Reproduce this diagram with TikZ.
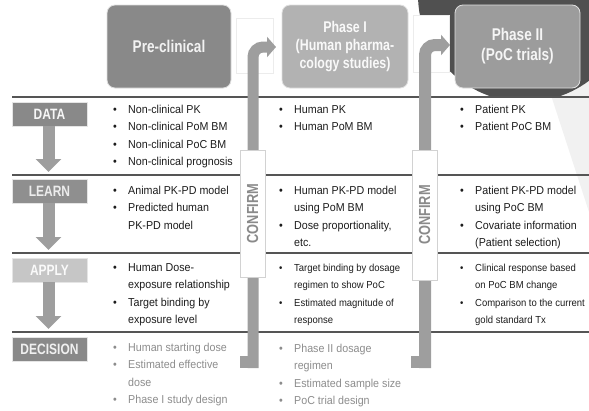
\documentclass[tikz,border=0pt]{standalone}
\usepackage{fontspec}
\setmainfont{Liberation Sans}[FakeStretch=0.93]
\newfontfamily\condfont{Liberation Sans}[FakeStretch=0.8]
\usetikzlibrary{arrows.meta}
\definecolor{hdA}{HTML}{898989}
\definecolor{hdB}{HTML}{B2B2B2}
\definecolor{hdC}{HTML}{9C9C9C}
\definecolor{darkbg}{HTML}{505050}
\definecolor{lightbg}{HTML}{F1F1F1}
\definecolor{sepc}{HTML}{555555}
\definecolor{arrgray}{HTML}{9E9E9E}
\definecolor{txtc}{HTML}{1C1C1C}
\definecolor{dectxt}{HTML}{8C8C8C}
\definecolor{confc}{HTML}{8A8A8A}
\begin{document}
\begin{tikzpicture}[x=1pt,y=-1pt,
  hbox/.style={rounded corners=8pt, draw=white!75!gray, line width=0.8pt, inner sep=0pt, align=center,
    font=\condfont\bfseries\fontsize{17}{20}\selectfont},
  lbl/.style={minimum width=75pt, minimum height=24pt, inner sep=0pt, draw=white!80!gray, line width=0.6pt,
    font=\condfont\bfseries\fontsize{15}{15}\selectfont},
  downarr/.style={draw=arrgray, line width=12pt, -{Triangle[length=13pt,width=25pt]}},
  carr/.style={draw=arrgray, line width=11pt, rounded corners=10pt, -{Triangle[length=9pt,width=20pt]}},
  wbox/.style={draw=white!85!gray, fill=white, line width=0.6pt, inner sep=0pt},
  confirm/.style={draw=white!65!gray, fill=white, rotate=90, minimum width=127pt, minimum height=25pt,
    inner sep=0pt, line width=0.8pt, text=confc, font=\condfont\bfseries\fontsize{16}{16}\selectfont},
  sepline/.style={draw=sepc, line width=1.6pt},
  txt/.style={anchor=base west, inner sep=0pt, text=txtc, font=\fontsize{11.5}{13}\selectfont},
  stxt/.style={anchor=base west, inner sep=0pt, text=txtc, font=\fontsize{10.2}{12}\selectfont},
  dtxt/.style={anchor=base west, inner sep=0pt, text=dectxt, font=\fontsize{11.5}{13}\selectfont},
]
\useasboundingbox (0,0) rectangle (589,410);
\newcommand\BI[5][txt]{\node[#1] (#2) at (#3,#4) {#5}; \node[#1] (#2b) at (#3-15,#4) {•};}
\newcommand\CL[5][txt]{\node[#1] (#2) at (#3,#4) {#5};}
% background
\fill[lightbg] (520,0) -- (589,0) -- (589,212) -- cycle;
\begin{scope}
  \clip (0,0) rectangle (589,97);
  \fill[darkbg] (525,-5) circle (107);
\end{scope}
% separator lines
\draw[sepline] (12,97) -- (589,97);
\draw[sepline] (12,175) -- (589,175);
\draw[sepline] (12,253) -- (589,253);
\draw[sepline] (12,332) -- (589,332);
% header boxes
\node[hbox, fill=hdA, text=white!90!gray, minimum width=124pt, minimum height=83pt] (pre) at (169,46.5) {Pre-clinical};
\node[hbox, fill=hdB, text=white!95!gray, minimum width=126pt, minimum height=83pt,
  font=\condfont\bfseries\fontsize{15.5}{18}\selectfont] (ph1) at (345,46.5) {Phase I\\(Human pharma-\\cology studies)};
\node[hbox, fill=hdC, text=white!92!gray, minimum width=125pt, minimum height=83pt,
  font=\condfont\bfseries\fontsize{17}{20}\selectfont] (ph2) at (517.5,46.5) {Phase II\\(PoC trials)};
% white boxes behind arrow tips
\node[wbox, minimum width=37pt, minimum height=55pt] (wb1) at (254.5,45.5) {};
\node[wbox, minimum width=36pt, minimum height=57pt] (wb2) at (431,43.5) {};
% curved confirm arrows
\coordinate (k1) at (253,368);
\coordinate (t1) at (276,47);
\coordinate (k2) at (425,368);
\coordinate (t2) at (450,45);
\fill[arrgray] (240,356) rectangle (253,368);
\fill[arrgray] (411,356) rectangle (425,368);
\draw[carr] (k1) |- (t1);
\draw[carr, line width=12pt] (k2) |- (t2);
% confirm boxes
\node[confirm] (cf1) at (252.5,213.5) {CONFIRM};
\node[confirm, minimum width=130pt] (cf2) at (424.5,215) {CONFIRM};
% row labels
\node[lbl, fill=hdA, text=white!94!gray] (data) at (49.5,114) {DATA};
\node[lbl, fill=hdA!95!white, text=white!85!gray] (learn) at (49.5,191) {LEARN};
\node[lbl, fill=white!55!gray, text=white!96!gray] (apply) at (49.5,270) {APPLY};
\node[lbl, fill=hdA, text=white!88!gray] (decision) at (49.5,349) {DECISION};
\coordinate (a1) at (48.5,172);
\coordinate (a2) at (48.5,250);
\coordinate (a3) at (48.5,329);
\draw[downarr] (data.south -| a1) -- (a1);
\draw[downarr] (learn.south -| a2) -- (a2);
\draw[downarr] (apply.south -| a3) -- (a3);
% column 1
\BI{c1d1}{128}{113}{Non-clinical PK}
\BI{c1d2}{128}{130.5}{Non-clinical PoM BM}
\BI{c1d3}{128}{148}{Non-clinical PoC BM}
\BI{c1d4}{128}{165.5}{Non-clinical prognosis}
\BI{c1l1}{128}{194}{Animal PK-PD model}
\BI{c1l2}{128}{211.5}{Predicted human}
\CL{c1l3}{128}{229}{PK-PD model}
\BI{c1a1}{128}{271}{Human Dose-}
\CL{c1a2}{128}{288.5}{exposure relationship}
\BI{c1a3}{128}{306}{Target binding by}
\CL{c1a4}{128}{323.5}{exposure level}
\BI[dtxt]{c1x1}{128}{351}{Human starting dose}
\BI[dtxt]{c1x2}{128}{368.5}{Estimated effective}
\CL[dtxt]{c1x3}{128}{386}{dose}
\BI[dtxt]{c1x4}{128}{403.5}{Phase I study design}
% column 2
\BI{c2d1}{294}{113}{Human PK}
\BI{c2d2}{294}{130.5}{Human PoM BM}
\BI{c2l1}{294}{194}{Human PK-PD model}
\CL{c2l2}{294}{211.5}{using PoM BM}
\BI{c2l3}{294}{229}{Dose proportionality,}
\CL{c2l4}{294}{246.5}{etc.}
\BI[stxt]{c2a1}{294}{271}{Target binding by dosage}
\CL[stxt]{c2a2}{294}{288.5}{regimen to show PoC}
\BI[stxt]{c2a3}{294}{306}{Estimated magnitude of}
\CL[stxt]{c2a4}{294}{323.5}{response}
\BI[dtxt]{c2x1}{294}{352}{Phase II dosage}
\CL[dtxt]{c2x2}{294}{369.5}{regimen}
\BI[dtxt]{c2x3}{294}{387}{Estimated sample size}
\BI[dtxt]{c2x4}{294}{404}{PoC trial design}
% column 3
\BI{c3d1}{475}{113}{Patient PK}
\BI{c3d2}{475}{130.5}{Patient PoC BM}
\BI{c3l1}{475}{194}{Patient PK-PD model}
\CL{c3l2}{475}{211.5}{using PoC BM}
\BI{c3l3}{475}{229}{Covariate information}
\CL{c3l4}{475}{246.5}{(Patient selection)}
\BI[stxt]{c3a1}{475}{271}{Clinical response based}
\CL[stxt]{c3a2}{475}{288.5}{on PoC BM change}
\BI[stxt]{c3a3}{475}{306}{Comparison to the current}
\CL[stxt]{c3a4}{475}{323.5}{gold standard Tx}
\end{tikzpicture}
\end{document}
